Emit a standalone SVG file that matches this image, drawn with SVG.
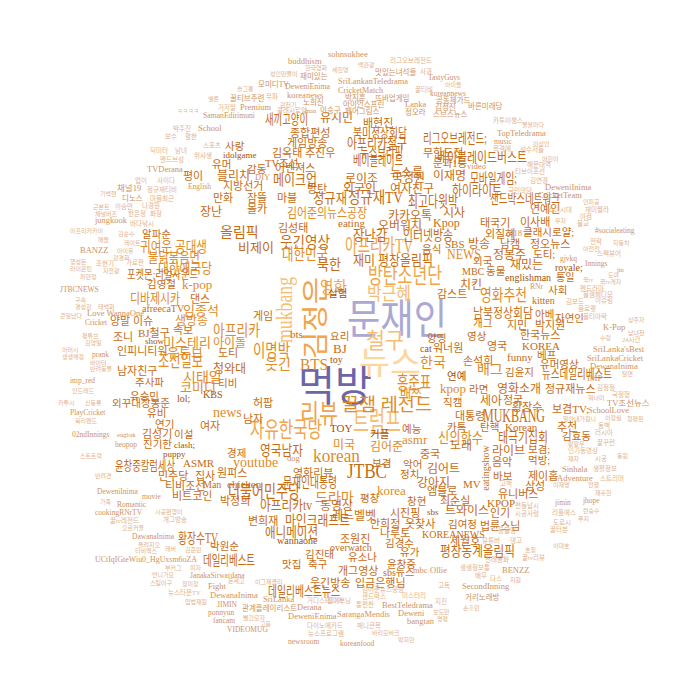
<svg xmlns="http://www.w3.org/2000/svg" width="700" height="700" viewBox="0 0 700 700">
<style>
text{font-family:"Liberation Serif","Noto Sans CJK KR",serif}
.p1{fill:#6c66a9}.p2{fill:#aba8d5}.o0{fill:#fdd6a0}.o1{fill:#f8bd72}.o2{fill:#f1a449}.o3{fill:#e08b27}.o4{fill:#c56c14}.o5{fill:#a55208}.t1{fill:#e2b28c}.t2{fill:#cf9262}
.s6{font-size:6px}.s7{font-size:6.5px}.s8{font-size:7.5px}.s9{font-size:8.5px}
</style>
<rect width="700" height="700" fill="#fff"/>
<g id="big">
<text x="298" y="401" font-size="42" class="p1" textLength="74" lengthAdjust="spacingAndGlyphs">먹방</text>
<text x="347" y="334" font-size="42" class="p2" textLength="100" lengthAdjust="spacingAndGlyphs">문재인</text>
<text x="359" y="374" font-size="32" class="o0" textLength="62" lengthAdjust="spacingAndGlyphs">뉴스</text>
<text x="366" y="348" font-size="22" class="o1" textLength="38" lengthAdjust="spacingAndGlyphs">철구</text>
<text x="300" y="423" font-size="26" class="o2" textLength="38" lengthAdjust="spacingAndGlyphs">리뷰</text>
<text x="353" y="432" font-size="28" class="o1" textLength="48" lengthAdjust="spacingAndGlyphs">트럼프</text>
<text transform="translate(325,318) rotate(-90)" text-anchor="middle" font-size="27" class="o2" textLength="82" lengthAdjust="spacingAndGlyphs">김정은</text>
<text transform="translate(292,310) rotate(-90)" text-anchor="middle" font-size="24" class="o1" textLength="66" lengthAdjust="spacingAndGlyphs">mukbang</text>
<text x="368" y="283" font-size="22" class="o2" textLength="74" lengthAdjust="spacingAndGlyphs">방탄소년단</text>
<text x="367" y="300" font-size="18" class="o1" textLength="44" lengthAdjust="spacingAndGlyphs">박근혜</text>
<text x="320" y="293" font-size="17" class="o2" textLength="27" lengthAdjust="spacingAndGlyphs">영화</text>
<text x="317" y="270" font-size="15" class="o4" textLength="24" lengthAdjust="spacingAndGlyphs">북한</text>
<text x="353" y="265" font-size="14" class="o4" textLength="80" lengthAdjust="spacingAndGlyphs">재미 평창올림픽</text>
<text x="447" y="259" font-size="14" class="o3" textLength="34" lengthAdjust="spacingAndGlyphs">NEWS</text>
<text x="342" y="411" font-size="18" class="o3" textLength="90" lengthAdjust="spacingAndGlyphs">꿀잼 레전드</text>
<text x="250" y="437" font-size="22" class="o2" textLength="72" lengthAdjust="spacingAndGlyphs">자유한국당</text>
<text x="345" y="253" font-size="20" class="o2" textLength="68" lengthAdjust="spacingAndGlyphs">아프리카TV</text>
<text x="397" y="389" font-size="18" class="o3" textLength="34" lengthAdjust="spacingAndGlyphs">홍준표</text>
<text x="347" y="478" font-size="20" class="o4" textLength="40" lengthAdjust="spacingAndGlyphs">JTBC</text>
<text x="313" y="462" font-size="18" class="o3" textLength="47" lengthAdjust="spacingAndGlyphs">korean</text>
<text x="228" y="498" font-size="18" class="o4" textLength="72" lengthAdjust="spacingAndGlyphs">더불어민주당</text>
<text x="483" y="422" font-size="18" class="o4" textLength="62" lengthAdjust="spacingAndGlyphs">MUKBANG</text>
<text x="480" y="301" font-size="17" class="o3" textLength="47" lengthAdjust="spacingAndGlyphs">영화추천</text>
</g>
<g id="mid">
<text x="328" y="297" font-size="10.5" class="o5">실험</text>
<text x="437" y="298" font-size="11" class="o4">감스트</text>
<text x="460" y="289" font-size="12" class="o4">치킨</text>
<text x="462" y="275" font-size="10" class="o4">MBC</text>
<text x="486" y="275" font-size="10.5" class="o4">동물</text>
<text x="473" y="265" font-size="10.5" class="o4">외국</text>
<text x="253" y="357" font-size="18" class="o3" textLength="37" lengthAdjust="spacingAndGlyphs">이명박</text>
<text x="253" y="320" font-size="11" class="o4">게임</text>
<text x="213" y="336" font-size="16" class="o3" textLength="47" lengthAdjust="spacingAndGlyphs">아프리카</text>
<text x="213" y="347" font-size="12" class="o3">아이돌</text>
<text x="218" y="357" font-size="11" class="o4">도티</text>
<text x="265" y="369" font-size="14" class="o3">웃긴</text>
<text x="300" y="370" font-size="16" class="o3" textLength="28" lengthAdjust="spacingAndGlyphs">BTS</text>
<text x="333" y="353" font-size="13" class="o4">BJ</text>
<text x="330" y="340" font-size="10.5" class="o4">요리</text>
<text x="290" y="338" font-size="11" class="o4">bts</text>
<text x="330" y="363" font-size="10" class="o5">toy</text>
<text x="213" y="373" font-size="12" class="o4">청와대</text>
<text x="420" y="367" font-size="14" class="o3">한국</text>
<text x="433" y="352" font-size="11" class="o4">워너원</text>
<text x="420" y="352" font-size="10" class="o5">cat</text>
<text x="427" y="342" font-size="10.5" class="o4">양띵</text>
<text x="467" y="340" font-size="10.5" class="o4">영상</text>
<text x="473" y="327" font-size="10.5" class="o4">개그</text>
<text x="463" y="365" font-size="11" class="o4">손석희</text>
<text x="477" y="374" font-size="14" class="o3">배그</text>
<text x="447" y="380" font-size="10.5" class="o5">연예</text>
<text x="440" y="393" font-size="13" class="o3">kpop</text>
<text x="469" y="393" font-size="10.5" class="o4">라면</text>
<text x="400" y="398" font-size="12" class="o3">배쯔</text>
<text x="443" y="406" font-size="10.5" class="o4">직캠</text>
<text x="455" y="420" font-size="11" class="o4">대통령</text>
<text x="447" y="431" font-size="10.5" class="o4">카톡</text>
<text x="438" y="443" font-size="15" class="o3" textLength="45" lengthAdjust="spacingAndGlyphs">신의한수</text>
<text x="402" y="433" font-size="10.5" class="o4">예능</text>
<text x="402" y="444" font-size="13" class="o3">asmr</text>
<text x="370" y="438" font-size="10.5" class="o5">커플</text>
<text x="333" y="449" font-size="12" class="o3">미국</text>
<text x="370" y="451" font-size="12" class="o3">김어준</text>
<text x="243" y="423" font-size="11" class="o4">남자</text>
<text x="213" y="417" font-size="14" class="o3">news</text>
<text x="200" y="430" font-size="11" class="o4">여자</text>
<text x="330" y="432" font-size="11" class="o5">TOY</text>
<text x="253" y="407" font-size="11" class="o4">허팝</text>
<text x="218" y="387" font-size="10.5" class="o4">티비</text>
<text x="203" y="398" font-size="10" class="o5">KBS</text>
<text x="142" y="238" font-size="10.5" class="o4">알파순</text>
<text x="140" y="252" font-size="15" class="o3" textLength="67" lengthAdjust="spacingAndGlyphs">귀여운 공대생</text>
<text x="148" y="262" font-size="14" class="o3" textLength="52" lengthAdjust="spacingAndGlyphs">불닭볶음면</text>
<text x="158" y="273" font-size="14" class="o3" textLength="54" lengthAdjust="spacingAndGlyphs">대한애국당</text>
<text x="127" y="279" font-size="12" class="o4" textLength="71" lengthAdjust="spacingAndGlyphs">포켓몬;리얼사운드</text>
<text x="147" y="288" font-size="10.5" class="o4">김영철</text>
<text x="182" y="289" font-size="13" class="o3">k-pop</text>
<text x="130" y="303" font-size="14" class="o3" textLength="50" lengthAdjust="spacingAndGlyphs">디바제시카</text>
<text x="190" y="303" font-size="11" class="o4">댄스</text>
<text x="142" y="312" font-size="10" class="o4">afreecaTV</text>
<text x="183" y="315" font-size="13" class="o3">임종석</text>
<text x="110" y="325" font-size="11" class="o4">양말 이슈</text>
<text x="175" y="325" font-size="12" class="o3">생방송</text>
<text x="173" y="334" font-size="11" class="o4">속보</text>
<text x="113" y="341" font-size="11" class="o4">조니</text>
<text x="138" y="337" font-size="11" class="o4">BJ철구</text>
<text x="145" y="344" font-size="9" class="o5">show</text>
<text x="163" y="347" font-size="13" class="o3">미스테리</text>
<text x="117" y="355" font-size="11" class="o4">인피니티워</text>
<text x="167" y="357" font-size="13" class="o3">유튜브</text>
<text x="158" y="367" font-size="17" class="o3" textLength="45" lengthAdjust="spacingAndGlyphs">조선일보</text>
<text x="117" y="375" font-size="11" class="o4">남자친구</text>
<text x="183" y="382" font-size="14" class="o3">시태일</text>
<text x="135" y="386" font-size="10.5" class="o4">주사파</text>
<text x="180" y="392" font-size="13" class="o3">코미디</text>
<text x="130" y="400" font-size="10.5" class="o4">유승민</text>
<text x="177" y="402" font-size="10" class="o5">lol;</text>
<text x="112" y="407" font-size="10.5" class="o4">외꾸대장봉준</text>
<text x="147" y="417" font-size="10.5" class="o4">유비</text>
<text x="155" y="428" font-size="10.5" class="o4">연기</text>
<text x="142" y="438" font-size="11" class="o4">김성기</text>
<text x="143" y="448" font-size="10.5" class="o4">진기한</text>
<text x="174" y="438" font-size="10.5" class="o4">이설</text>
<text x="174" y="448" font-size="9" class="o5">clash;</text>
<text x="163" y="457" font-size="9" class="o5">puppy</text>
<text x="115" y="470" font-size="13" class="o4" textLength="60" lengthAdjust="spacingAndGlyphs">윤창중칼럼세상</text>
<text x="183" y="467" font-size="11" class="o4">ASMR</text>
<text x="158" y="480" font-size="11" class="o4">민주당</text>
<text x="195" y="480" font-size="11" class="o4">집사</text>
<text x="165" y="490" font-size="11" class="o4">티비조선</text>
<text x="172" y="500" font-size="11" class="o4">비트코인</text>
<text x="265" y="124" font-size="14" class="o4" textLength="43" lengthAdjust="spacingAndGlyphs">새끼고양이</text>
<text x="320" y="122" font-size="12" class="o4">유시민</text>
<text x="363" y="127" font-size="11" class="o4">배현진</text>
<text x="290" y="137" font-size="11" class="o4">종합편성</text>
<text x="353" y="137" font-size="13" class="o4" textLength="54" lengthAdjust="spacingAndGlyphs">북미정상회담</text>
<text x="287" y="147" font-size="11" class="o4">게임방송</text>
<text x="347" y="148" font-size="14" class="o4" textLength="60" lengthAdjust="spacingAndGlyphs">아프리카철구</text>
<text x="423" y="143" font-size="14" class="o4" textLength="64" lengthAdjust="spacingAndGlyphs">리그오브레전드;</text>
<text x="225" y="150" font-size="10.5" class="o4">사랑</text>
<text x="272" y="157" font-size="11" class="o4">김옥태</text>
<text x="305" y="157" font-size="11" class="o4">추진우</text>
<text x="360" y="157" font-size="14" class="o4" textLength="43" lengthAdjust="spacingAndGlyphs">뉴스브리핑</text>
<text x="423" y="157" font-size="11" class="o4">무한도전</text>
<text x="223" y="158" font-size="9" class="o5">idolgame</text>
<text x="353" y="165" font-size="14" class="o4" textLength="50" lengthAdjust="spacingAndGlyphs">베이블레이드</text>
<text x="437" y="162" font-size="14" class="o4" textLength="90" lengthAdjust="spacingAndGlyphs">베이블레이드버스트</text>
<text x="212" y="168" font-size="10.5" class="o4">유머</text>
<text x="265" y="167" font-size="10.5" class="o4">TV조선</text>
<text x="275" y="172" font-size="11" class="o4">어벤져스</text>
<text x="390" y="177" font-size="12" class="o4">뉴스룸</text>
<text x="433" y="167" font-size="10.5" class="o4">문과1등</text>
<text x="433" y="180" font-size="12" class="o4">이재명</text>
<text x="217" y="180" font-size="12" class="o4">블리치</text>
<text x="247" y="173" font-size="10.5" class="o4">감동</text>
<text x="273" y="185" font-size="15" class="o4" textLength="44" lengthAdjust="spacingAndGlyphs">메이크업</text>
<text x="345" y="183" font-size="12" class="o4">로이조</text>
<text x="392" y="182" font-size="12" class="o4">국정원</text>
<text x="470" y="183" font-size="14" class="o4" textLength="47" lengthAdjust="spacingAndGlyphs">모바일게임;</text>
<text x="223" y="190" font-size="11" class="o4">지방선거</text>
<text x="307" y="193" font-size="11" class="o4">방탄</text>
<text x="343" y="193" font-size="12" class="o4">외국인</text>
<text x="390" y="193" font-size="12" class="o4">여자친구</text>
<text x="452" y="195" font-size="14" class="o4" textLength="50" lengthAdjust="spacingAndGlyphs">하이라이트</text>
<text x="213" y="202" font-size="11" class="o4">만화</text>
<text x="247" y="202" font-size="11" class="o4">잠뜰</text>
<text x="277" y="202" font-size="11" class="o4">마블</text>
<text x="313" y="203" font-size="14" class="o4" textLength="34" lengthAdjust="spacingAndGlyphs">정규재</text>
<text x="348" y="203" font-size="16" class="o4" textLength="55" lengthAdjust="spacingAndGlyphs">정규재TV</text>
<text x="408" y="207" font-size="16" class="o4" textLength="50" lengthAdjust="spacingAndGlyphs">최고다윗박</text>
<text x="200" y="216" font-size="12" class="o4">장난</text>
<text x="183" y="180" font-size="11" class="o4">평이</text>
<text x="247" y="213" font-size="11" class="o4">몰카</text>
<text x="287" y="217" font-size="13" class="o3" textLength="80" lengthAdjust="spacingAndGlyphs">김어준의뉴스공장</text>
<text x="388" y="220" font-size="12" class="o4">카카오톡</text>
<text x="443" y="217" font-size="12" class="o4">시사</text>
<text x="278" y="232" font-size="11" class="o4">김성태</text>
<text x="338" y="227" font-size="11" class="o4">eating</text>
<text x="378" y="230" font-size="12" class="o4">오버워치</text>
<text x="433" y="227" font-size="12" class="o4">Kpop</text>
<text x="480" y="227" font-size="11" class="o4">태국기</text>
<text x="220" y="237" font-size="14" class="o4">올림픽</text>
<text x="280" y="248" font-size="16" class="o4" textLength="50" lengthAdjust="spacingAndGlyphs">웃긴영상</text>
<text x="353" y="240" font-size="14" class="o4" textLength="34" lengthAdjust="spacingAndGlyphs">장난감</text>
<text x="403" y="240" font-size="14" class="o4" textLength="50" lengthAdjust="spacingAndGlyphs">인터넷방송</text>
<text x="445" y="248" font-size="11" class="o4">SBS</text>
<text x="468" y="248" font-size="12" class="o4">방송</text>
<text x="485" y="238" font-size="11" class="o4">외질혜</text>
<text x="238" y="252" font-size="13" class="o4">비제이</text>
<text x="282" y="260" font-size="16" class="o3" textLength="46" lengthAdjust="spacingAndGlyphs">대한민국</text>
<text x="422" y="253" font-size="10.5" class="o4">음식</text>
<text x="227" y="457" font-size="10.5" class="o4">경제</text>
<text x="260" y="455" font-size="14" class="o4" textLength="43" lengthAdjust="spacingAndGlyphs">영국남자</text>
<text x="420" y="458" font-size="11" class="o4">중국</text>
<text x="450" y="450" font-size="12" class="o4">노래</text>
<text x="233" y="467" font-size="14" class="o3">youtube</text>
<text x="293" y="477" font-size="11" class="o4">영화리뷰</text>
<text x="372" y="467" font-size="10.5" class="o4">보겸</text>
<text x="403" y="468" font-size="10.5" class="o4">악어</text>
<text x="427" y="473" font-size="12" class="o4">김어트</text>
<text x="400" y="478" font-size="10.5" class="o4">정치</text>
<text x="217" y="477" font-size="11" class="o4">원피스</text>
<text x="283" y="487" font-size="14" class="o4" textLength="54" lengthAdjust="spacingAndGlyphs">문재인대통령</text>
<text x="417" y="487" font-size="12" class="o4">강아지</text>
<text x="463" y="488" font-size="11" class="o4">MV</text>
<text x="227" y="488" font-size="11" class="o4">chicken</text>
<text x="203" y="488" font-size="10" class="o4">Man</text>
<text x="315" y="502" font-size="14" class="o3">드라마</text>
<text x="377" y="495" font-size="13" class="o3">korea</text>
<text x="427" y="495" font-size="11" class="o4">엠블로</text>
<text x="220" y="505" font-size="11" class="o4">박정희</text>
<text x="360" y="502" font-size="10.5" class="o4">평창</text>
<text x="407" y="505" font-size="10.5" class="o4">창현</text>
<text x="440" y="505" font-size="11" class="o4">최순실</text>
<text x="260" y="510" font-size="14" class="o4" textLength="52" lengthAdjust="spacingAndGlyphs">아프리카tv</text>
<text x="320" y="510" font-size="12" class="o4">동영상</text>
<text x="332" y="520" font-size="12" class="o4">레드벨벳</text>
<text x="390" y="517" font-size="11" class="o4">시진핑</text>
<text x="427" y="515" font-size="9" class="o5">sbs</text>
<text x="445" y="515" font-size="12" class="o4">트와이스</text>
<text x="248" y="525" font-size="11" class="o4">변희재</text>
<text x="285" y="525" font-size="14" class="o4" textLength="65" lengthAdjust="spacingAndGlyphs">마인크래프트</text>
<text x="370" y="528" font-size="11" class="o4">안희정</text>
<text x="405" y="528" font-size="11" class="o4">옷찾사</text>
<text x="448" y="528" font-size="10.5" class="o4">김여정</text>
<text x="380" y="537" font-size="11" class="o4">나루토</text>
<text x="265" y="537" font-size="14" class="o4" textLength="53" lengthAdjust="spacingAndGlyphs">애니메이션</text>
<text x="422" y="538" font-size="10" class="o4">KOREANEWS</text>
<text x="340" y="543" font-size="11" class="o4">조원진</text>
<text x="450" y="545" font-size="11" class="o4">세월호</text>
<text x="210" y="550" font-size="10.5" class="o4">박원순</text>
<text x="277" y="544" font-size="10" class="o5">wannaone</text>
<text x="330" y="551" font-size="10" class="o4">overwatch</text>
<text x="385" y="547" font-size="10.5" class="o4">김경수</text>
<text x="400" y="556" font-size="10.5" class="o4">유가</text>
<text x="440" y="556" font-size="14" class="o4" textLength="75" lengthAdjust="spacingAndGlyphs">평창동계올림픽</text>
<text x="305" y="558" font-size="10.5" class="o4">김진태</text>
<text x="348" y="561" font-size="10.5" class="o4">유소나</text>
<text x="203" y="565" font-size="14" class="o4" textLength="52" lengthAdjust="spacingAndGlyphs">데일리베스트</text>
<text x="282" y="568" font-size="10.5" class="o4">맛집</text>
<text x="308" y="568" font-size="10.5" class="o4">축구</text>
<text x="387" y="568" font-size="10.5" class="o4">윤창중</text>
<text x="338" y="575" font-size="11" class="o4">개그영상</text>
<text x="383" y="576" font-size="10" class="o4">sbs뉴스</text>
<text x="310" y="587" font-size="11" class="o4">웃긴방송</text>
<text x="355" y="587" font-size="11" class="o4">입금은행님</text>
<text x="268" y="596" font-size="14" class="o4" textLength="72" lengthAdjust="spacingAndGlyphs">데일리베스트뉴스</text>
<text x="178" y="543" font-size="14" class="o4" textLength="40" lengthAdjust="spacingAndGlyphs">황장수TV</text>
<text x="490" y="203" font-size="13" class="o4" textLength="70" lengthAdjust="spacingAndGlyphs">샌드박스네트워크</text>
<text x="530" y="213" font-size="11" class="o4">연예인</text>
<text x="520" y="226" font-size="11" class="o4">이사배</text>
<text x="523" y="236" font-size="10.5" class="o4">클래시로얄;</text>
<text x="500" y="248" font-size="11" class="o4">남캠</text>
<text x="530" y="248" font-size="11" class="o4">정오뉴스</text>
<text x="493" y="259" font-size="12" class="o4">정봉주</text>
<text x="533" y="258" font-size="10.5" class="o4">도티;</text>
<text x="510" y="269" font-size="12" class="o4">재밌는</text>
<text x="555" y="271" font-size="10" class="o5">royale;</text>
<text x="505" y="281" font-size="10" class="o5">englishman</text>
<text x="556" y="281" font-size="10" class="o4">통일</text>
<text x="548" y="294" font-size="10.5" class="o4">사회</text>
<text x="532" y="304" font-size="10" class="o4">kitten</text>
<text x="473" y="317" font-size="13" class="o4" textLength="60" lengthAdjust="spacingAndGlyphs">남북정상회담</text>
<text x="535" y="318" font-size="10.5" class="o4">아베</text>
<text x="555" y="322" font-size="10.5" class="o4">자연인</text>
<text x="507" y="329" font-size="11" class="o4">지민</text>
<text x="535" y="329" font-size="11" class="o4">박지원</text>
<text x="520" y="339" font-size="11" class="o4">한국뉴스</text>
<text x="487" y="350" font-size="11" class="o4">영국</text>
<text x="522" y="350" font-size="11" class="o4">KOREA</text>
<text x="507" y="361" font-size="11" class="o4">funny</text>
<text x="537" y="359" font-size="10.5" class="o4">베프</text>
<text x="540" y="368" font-size="10.5" class="o4">유머영상</text>
<text x="505" y="376" font-size="10.5" class="o4">김윤지</text>
<text x="542" y="378" font-size="13" class="o4" textLength="70" lengthAdjust="spacingAndGlyphs">뉴스데일리베스트</text>
<text x="497" y="393" font-size="12" class="o4">영화소개</text>
<text x="545" y="393" font-size="11" class="o4">정규재뉴스</text>
<text x="480" y="405" font-size="12" class="o4">세아</text>
<text x="503" y="404" font-size="11" class="o4">정국</text>
<text x="512" y="411" font-size="11" class="o4">황장수</text>
<text x="552" y="413" font-size="11" class="o4">보겸TV;</text>
<text x="480" y="431" font-size="10.5" class="o4">탄핵</text>
<text x="505" y="431" font-size="11" class="o4">Korean</text>
<text x="557" y="431" font-size="11" class="o4">추천</text>
<text x="498" y="442" font-size="14" class="o4" textLength="50" lengthAdjust="spacingAndGlyphs">태극기집회</text>
<text x="562" y="440" font-size="10.5" class="o4">김효동</text>
<text x="492" y="455" font-size="12" class="o4">라이브</text>
<text x="528" y="453" font-size="10.5" class="o4">보겸;</text>
<text x="492" y="466" font-size="11" class="o4">음악</text>
<text x="528" y="464" font-size="10.5" class="o4">먹방;</text>
<text x="493" y="480" font-size="10.5" class="o4">바보</text>
<text x="528" y="480" font-size="11" class="o4">제이홉</text>
<text transform="translate(489,468) rotate(-90)" text-anchor="middle" font-size="10" class="o4">eatingshow</text>
<text x="525" y="490" font-size="11" class="o4">삼성</text>
<text x="498" y="498" font-size="11" class="o4">유니버스</text>
<text x="487" y="507" font-size="11" class="o4">KPOP</text>
<text x="490" y="517" font-size="11" class="o4">인기</text>
<text x="480" y="530" font-size="11" class="o4">법륜스님</text>
</g>
<g id="small">
<text x="328" y="57" class="s9 t2">sohnsukhee</text>
<text x="288" y="64" class="s9 t2">buddhism</text>
<text x="390" y="63" class="s7 t1">리그오브레전드</text>
<text x="305" y="70" class="s6 t1">한국영화</text>
<text x="332" y="72" class="s6 t1">세진영</text>
<text x="358" y="67" class="s6 t1">백관광</text>
<text x="375" y="75" class="s8 t2">맛있는녀석들</text>
<text x="420" y="74" class="s7 t1">사과</text>
<text x="270" y="76" class="s6 t1">성인만물이</text>
<text x="300" y="79" class="s8 t2">재미있는</text>
<text x="338" y="84" class="s9 t2" textLength="70" lengthAdjust="spacingAndGlyphs">SriLankanTeledrama</text>
<text x="428" y="80" class="s8 t2">TastyGuys</text>
<text x="258" y="87" class="s8 t2">모미디TV</text>
<text x="285" y="89" class="s9 t2" textLength="45" lengthAdjust="spacingAndGlyphs">DeweniEnima</text>
<text x="445" y="87" class="s6 t1">아이들</text>
<text x="237" y="91" class="s6 t1">슬그릉</text>
<text x="338" y="93" class="s9 t2" textLength="45" lengthAdjust="spacingAndGlyphs">CricketMatch</text>
<text x="415" y="92" class="s7 t1">꿀티비</text>
<text x="430" y="96" class="s8 t2">koreannews</text>
<text x="287" y="98" class="s9 t2">koreanews</text>
<text x="266" y="99" class="s7 t1">무파</text>
<text x="345" y="100" class="s8 t2">박지훈</text>
<text x="375" y="101" class="s8 t2">뜨바업게임</text>
<text x="436" y="103" class="s8 t2">공동체가드</text>
<text x="230" y="101" class="s8 t2">꿀티브주련</text>
<text x="208" y="101" class="s6 t1">멜론</text>
<text x="303" y="105" class="s8 t2">노희진</text>
<text x="280" y="107" class="s6 t1">감천기</text>
<text x="343" y="107" class="s8 t2">아이언스프린</text>
<text x="405" y="107" class="s9 t2">Lanka</text>
<text x="435" y="110" class="s8 t2">김정진</text>
<text x="468" y="109" class="s8 t2">바른미래당</text>
<text x="218" y="110" class="s7 t1">거저말</text>
<text x="240" y="110" class="s9 t2">Premium</text>
<text x="277" y="113" class="s7 t1">클래시로얄</text>
<text x="305" y="113" class="s7 t2">man</text>
<text x="320" y="113" class="s8 t2">이승구</text>
<text x="345" y="114" class="s8 t2">페어그림스</text>
<text x="405" y="115" class="s8 t2">정오라</text>
<text x="433" y="117" class="s8 t2">스브스뉴스</text>
<text x="177" y="113" class="s6 t1">ㅋㅋㅋㅋ</text>
<text x="203" y="118" class="s9 t2" textLength="52" lengthAdjust="spacingAndGlyphs">SamanEdirimuni</text>
<text x="198" y="131" class="s9 t2">School</text>
<text x="165" y="139" class="s7 t1">보수</text>
<text x="185" y="139" class="s7 t1">혈한</text>
<text x="173" y="131" class="s7 t1">박주진</text>
<text x="203" y="148" class="s7 t1">스포츠</text>
<text x="150" y="153" class="s7 t1">딕미터</text>
<text x="175" y="153" class="s7 t1">남녀</text>
<text x="194" y="158" class="s7 t1">위샤생</text>
<text x="160" y="162" class="s7 t1">맨드브성</text>
<text x="147" y="172" class="s9 t2">TVDerana</text>
<text x="135" y="183" class="s7 t1">업이</text>
<text x="157" y="183" class="s7 t1">사이다</text>
<text x="188" y="189" class="s8 t2">English</text>
<text x="117" y="191" class="s9 t2">채널19</text>
<text x="147" y="192" class="s7 t1">정규재티비</text>
<text x="122" y="201" class="s8 t2">디노스</text>
<text x="150" y="201" class="s7 t1">마블최근</text>
<text x="100" y="196" class="s6 t1">기백현</text>
<text x="93" y="209" class="s6 t1">근본트</text>
<text x="115" y="209" class="s7 t1">이승만</text>
<text x="142" y="208" class="s7 t1">나경원</text>
<text x="95" y="216" class="s6 t1">채널버즈</text>
<text x="128" y="216" class="s7 t1">한은정</text>
<text x="150" y="216" class="s7 t1">화장</text>
<text x="95" y="223" class="s9 t2">jungkook</text>
<text x="130" y="226" class="s7 t1">바다낚시</text>
<text x="70" y="233" class="s6 t1">아프리카카이</text>
<text x="118" y="236" class="s6 t1">김순수</text>
<text x="98" y="242" class="s6 t1">메들</text>
<text x="124" y="245" class="s6 t1">레이트</text>
<text x="80" y="253" class="s9 t2">BANZZ</text>
<text x="117" y="253" class="s6 t1">아이유</text>
<text x="113" y="260" class="s6 t1">강경화</text>
<text x="70" y="264" class="s6 t1">행성돈</text>
<text x="96" y="266" class="s7 t1">조현기</text>
<text x="126" y="265" class="s7 t1">가로판</text>
<text x="70" y="271" class="s6 t1">라이온틴</text>
<text x="103" y="273" class="s6 t1">자전광</text>
<text x="80" y="279" class="s6 t1">파란정</text>
<text x="60" y="292" class="s8 t2">JTBCNEWS</text>
<text x="75" y="302" class="s6 t1">구속</text>
<text x="75" y="309" class="s6 t1">경성강</text>
<text x="98" y="309" class="s6 t1">태백화</text>
<text x="87" y="316" class="s9 t2">Love WannaOne</text>
<text x="60" y="318" class="s6 t1">큰일났다</text>
<text x="85" y="325" class="s8 t2">Cricket</text>
<text x="82" y="338" class="s6 t1">평튜브</text>
<text x="85" y="345" class="s6 t1">김영일</text>
<text x="62" y="352" class="s6 t1">아러시</text>
<text x="62" y="359" class="s6 t1">생생해정</text>
<text x="92" y="357" class="s8 t2">prank</text>
<text x="90" y="365" class="s6 t1">바이터</text>
<text x="90" y="371" class="s6 t1">반려동물</text>
<text x="70" y="383" class="s8 t2">imp_red</text>
<text x="72" y="393" class="s6 t1">인드레드</text>
<text x="58" y="405" class="s6 t1">카투시</text>
<text x="85" y="405" class="s6 t1">신동룡</text>
<text x="70" y="415" class="s8 t2">PlayCricket</text>
<text x="75" y="423" class="s6 t1">북리펜드</text>
<text x="72" y="437" class="s8 t2">02ndInnings</text>
<text x="117" y="437" class="s7 t2">eugbak</text>
<text x="115" y="447" class="s8 t2">heopop</text>
<text x="80" y="458" class="s6 t1">스트트럭</text>
<text x="95" y="478" class="s6 t1">반려견</text>
<text x="97" y="494" class="s8 t2">DeweniInima</text>
<text x="142" y="499" class="s8 t2">movie</text>
<text x="100" y="504" class="s6 t1">가족</text>
<text x="117" y="507" class="s8 t2">Romantic</text>
<text x="95" y="515" class="s8 t2">cookingRNrTV</text>
<text x="155" y="514" class="s6 t1">시공편행이</text>
<text x="110" y="523" class="s7 t1">꿀tv레전드</text>
<text x="163" y="522" class="s7 t1">개그방송</text>
<text x="122" y="530" class="s6 t1">오르커플</text>
<text x="132" y="539" class="s8 t2">DawanaInima</text>
<text x="138" y="547" class="s6 t1">올려지오</text>
<text x="135" y="553" class="s6 t1">티비엑스</text>
<text x="165" y="551" class="s6 t1">레버</text>
<text x="185" y="552" class="s6 t1">김준민</text>
<text x="95" y="562" class="s8 t2" textLength="102" lengthAdjust="spacingAndGlyphs">UCtIqIGteWiu0_HgUxsm6oZA</text>
<text x="190" y="578" class="s8 t2">JanakaSirwardana</text>
<text x="165" y="570" class="s6 t1">부커그</text>
<text x="190" y="570" class="s6 t1">피자</text>
<text x="152" y="577" class="s6 t1">언니가요</text>
<text x="150" y="585" class="s6 t1">스팀이구</text>
<text x="182" y="586" class="s6 t1">정미장</text>
<text x="208" y="589" class="s9 t2">Fight</text>
<text x="168" y="595" class="s7 t1">뉴스타운TV</text>
<text x="210" y="598" class="s9 t2">DewanaInima</text>
<text x="185" y="604" class="s6 t1">입법재원</text>
<text x="217" y="607" class="s8 t2">JIMIN</text>
<text x="208" y="615" class="s8 t2">ponnyun</text>
<text x="242" y="611" class="s8 t2">관계플레이리스트</text>
<text x="213" y="623" class="s8 t2">fancam</text>
<text x="243" y="620" class="s6 t1">빨간모자</text>
<text x="227" y="632" class="s8 t2">VIDEOMUG</text>
<text x="255" y="584" class="s6 t1">이그제클리</text>
<text x="228" y="583" class="s6 t1">돈세고</text>
<text x="263" y="602" class="s9 t2">SriLanka</text>
<text x="307" y="603" class="s7 t1">거디스테디어</text>
<text x="362" y="592" class="s7 t1">김어준뉴스공장</text>
<text x="362" y="599" class="s7 t1">샌드박스</text>
<text x="402" y="598" class="s7 t1">미스터리</text>
<text x="438" y="588" class="s7 t1">고독</text>
<text x="435" y="604" class="s7 t1">지진</text>
<text x="462" y="589" class="s9 t2">SecondInning</text>
<text x="465" y="600" class="s8 t2">거리노래방</text>
<text x="382" y="608" class="s9 t2">BestTeledrama</text>
<text x="356" y="607" class="s7 t1">통편찬</text>
<text x="327" y="603" class="s7 t1">집이브닝</text>
<text x="297" y="610" class="s9 t2">Derana</text>
<text x="337" y="617" class="s9 t2">SarangaMendis</text>
<text x="398" y="616" class="s9 t2">Deweni</text>
<text x="433" y="614" class="s6 t1">보도만</text>
<text x="463" y="610" class="s6 t1">손흥민</text>
<text x="288" y="619" class="s9 t2">DeweniEnima</text>
<text x="407" y="624" class="s9 t2">bangtan</text>
<text x="307" y="628" class="s7 t1">다이노에카드</text>
<text x="357" y="628" class="s7 t1">매니큰목</text>
<text x="308" y="636" class="s7 t1">뉴스프로그램</text>
<text x="372" y="635" class="s6 t1">바리모바크</text>
<text x="288" y="644" class="s8 t2">newsroom</text>
<text x="340" y="646" class="s8 t2">koreanfood</text>
<text x="398" y="642" class="s6 t1">박희란</text>
<text x="260" y="626" class="s6 t1">고등</text>
<text x="437" y="621" class="s6 t1">명평</text>
<text x="500" y="486" class="s7 t1">고백</text>
<text x="553" y="487" class="s6 t1">이재명</text>
<text x="588" y="487" class="s6 t1">전쟁</text>
<text x="595" y="495" class="s6 t1">재홍한</text>
<text x="515" y="508" class="s7 t1">편돌납시</text>
<text x="555" y="505" class="s8 t2">jimin</text>
<text x="583" y="503" class="s8 t2">jhope</text>
<text x="515" y="516" class="s7 t1">시공사령</text>
<text x="552" y="515" class="s7 t1">리플에스</text>
<text x="583" y="513" class="s6 t1">런승수</text>
<text x="578" y="521" class="s6 t1">푸지</text>
<text x="553" y="525" class="s7 t1">도로시</text>
<text x="550" y="532" class="s7 t1">꿀터분</text>
<text x="498" y="533" class="s7 t1">동물멍</text>
<text x="482" y="543" class="s7 t1">유튜버</text>
<text x="510" y="543" class="s7 t1">댕고</text>
<text x="553" y="548" class="s6 t1">이대호</text>
<text x="525" y="552" class="s6 t1">호칭</text>
<text x="522" y="560" class="s7 t1">꿀tv리뷰</text>
<text x="485" y="562" class="s7 t1">전래동화</text>
<text x="460" y="570" class="s7 t1">생생정보통</text>
<text x="475" y="578" class="s7 t1">배우</text>
<text x="490" y="581" class="s7 t1">다스</text>
<text x="502" y="573" class="s9 t2">BENZZ</text>
<text x="510" y="582" class="s6 t1">지원</text>
<text x="493" y="123" class="s7 t1">카투이챙스</text>
<text x="522" y="127" class="s6 t1">물불마다</text>
<text x="497" y="136" class="s9 t2">TopTeledrama</text>
<text x="494" y="144" class="s8 t2">music</text>
<text x="533" y="146" class="s6 t1">이상인</text>
<text x="493" y="151" class="s7 t1">목격에</text>
<text x="520" y="152" class="s7 t1">성수저들</text>
<text x="542" y="161" class="s6 t1">어린이</text>
<text x="527" y="167" class="s7 t1">해운대역</text>
<text x="467" y="169" class="s9 t2">video</text>
<text x="515" y="174" class="s7 t1">티브이조선</text>
<text x="530" y="183" class="s7 t1">김연경</text>
<text x="545" y="190" class="s9 t2">DeweniInima</text>
<text x="508" y="193" class="s7 t1">국민의당</text>
<text x="538" y="198" class="s9 t2">CricketTeam</text>
<text x="583" y="204" class="s6 t1">인피공</text>
<text x="548" y="212" class="s7 t1">소녀시대</text>
<text x="585" y="212" class="s7 t1">재미짤라</text>
<text x="580" y="219" class="s7 t1">아컴</text>
<text x="505" y="236" class="s9 t2">2018</text>
<text x="595" y="233" class="s8 t2">#socialeating</text>
<text x="555" y="223" class="s6 t1">우자</text>
<text x="577" y="226" class="s7 t1">물교</text>
<text x="590" y="244" class="s7 t1">전략</text>
<text x="613" y="245" class="s6 t1">자동차</text>
<text x="583" y="251" class="s6 t1">아전전</text>
<text x="597" y="256" class="s7 t1">스펙뷰어</text>
<text x="560" y="261" class="s8 t2">gjvkq</text>
<text x="585" y="266" class="s8 t2">Innings</text>
<text x="617" y="272" class="s7 t2">jin</text>
<text x="608" y="277" class="s6 t1">도야</text>
<text x="583" y="282" class="s6 t1">꾹tv</text>
<text x="600" y="284" class="s6 t1">꾹tv게자</text>
<text x="530" y="289" class="s8 t2">RNr</text>
<text x="580" y="291" class="s7 t1">펜드라마</text>
<text x="583" y="297" class="s7 t1">몰캠페디모</text>
<text x="566" y="304" class="s7 t1">김보드</text>
<text x="595" y="303" class="s7 t1">이슈링</text>
<text x="578" y="311" class="s7 t1">블로퀫</text>
<text x="583" y="319" class="s7 t1">몰티아락</text>
<text x="628" y="322" class="s6 t1">상주자</text>
<text x="603" y="330" class="s9 t2">K-Pop</text>
<text x="600" y="340" class="s6 t1">수령</text>
<text x="622" y="342" class="s7 t1">24시간</text>
<text x="628" y="335" class="s6 t1">남녀천</text>
<text x="593" y="352" class="s9 t2">SriLanka'sBest</text>
<text x="587" y="361" class="s9 t2">SriLankaCricket</text>
<text x="590" y="369" class="s9 t2">DewanaInima</text>
<text x="622" y="376" class="s6 t1">탈면</text>
<text x="587" y="381" class="s9 t2">IMP</text>
<text x="597" y="390" class="s7 t1">김정정</text>
<text x="588" y="400" class="s6 t1">워너미</text>
<text x="612" y="397" class="s7 t1">국정형</text>
<text x="607" y="406" class="s9 t2">TV조선뉴스</text>
<text x="588" y="413" class="s9 t2">SchoolLove</text>
<text x="605" y="420" class="s6 t1">이정필</text>
<text x="627" y="421" class="s6 t1">청평환</text>
<text x="563" y="421" class="s6 t1">알아내가원니</text>
<text x="598" y="428" class="s7 t1">동백</text>
<text x="595" y="435" class="s7 t1">러시아</text>
<text x="597" y="445" class="s7 t1">꿀꾸런</text>
<text x="568" y="446" class="s6 t1">팡팡우</text>
<text x="568" y="453" class="s7 t1">인기동영상</text>
<text x="568" y="461" class="s6 t1">재자</text>
<text x="595" y="461" class="s7 t1">시공</text>
<text x="617" y="458" class="s6 t1">동원</text>
<text x="562" y="472" class="s9 t2">Sinhala</text>
<text x="593" y="471" class="s7 t1">생활정보</text>
<text x="557" y="481" class="s9 t2">Adventure</text>
<text x="600" y="481" class="s7 t1">스트리머</text>
<text x="255" y="180" class="s9 t2">DIY</text>
<text x="287" y="461" class="s9 t2">dog</text>
<text x="413" y="573" class="s9 t2">mbc</text>
<text x="430" y="573" class="s9 t2">Ollie</text>
</g>
</svg>
